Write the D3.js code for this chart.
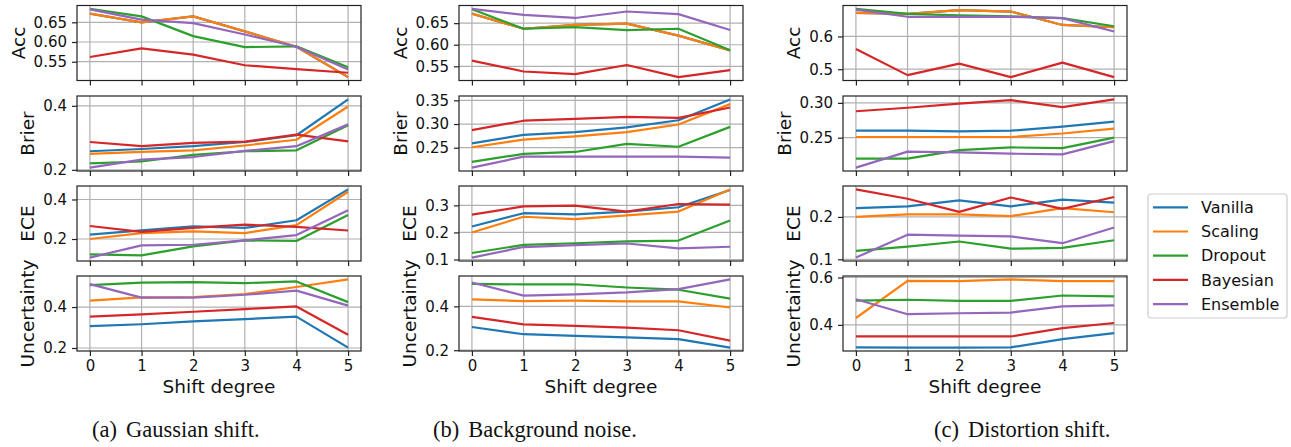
<!DOCTYPE html>
<html lang="en">
<head>
<meta charset="UTF-8">
<title>Calibration under shift</title>
<script src="https://d3js.org/d3.v7.min.js"></script>
<style>
  body { margin: 0; background: #fff; }
  svg { display: block; }
</style>
</head>
<body>
<div id="chart"></div>
<script>
// shift degrees on the x axis
const shifts = [0, 1, 2, 3, 4, 5];
const methods = ["Vanilla", "Scaling", "Dropout", "Bayesian", "Ensemble"];
const colors = ["#1f77b4", "#ff7f0e", "#2ca02c", "#d62728", "#9467bd"];
const metricNames = ["Acc", "Brier", "ECE", "Uncertainty"];
const captions = [["(a)", "Gaussian shift."], ["(b)", "Background noise."], ["(c)", "Distortion shift."]];

// rows: Vanilla, Scaling, Dropout, Bayesian, Ensemble
const gaussianAcc = [
  [0.672, 0.650, 0.665, 0.627, 0.588, 0.511],
  [0.672, 0.650, 0.665, 0.627, 0.588, 0.511],
  [0.684, 0.665, 0.615, 0.587, 0.589, 0.536],
  [0.562, 0.584, 0.568, 0.541, 0.531, 0.522],
  [0.683, 0.657, 0.648, 0.619, 0.588, 0.530]
];
const gaussianBrier = [
  [0.258, 0.265, 0.274, 0.287, 0.308, 0.420],
  [0.250, 0.256, 0.261, 0.276, 0.294, 0.398],
  [0.220, 0.226, 0.247, 0.258, 0.261, 0.339],
  [0.287, 0.274, 0.284, 0.288, 0.310, 0.289],
  [0.207, 0.232, 0.240, 0.259, 0.274, 0.342]
];
const gaussianEce = [
  [0.222, 0.244, 0.264, 0.256, 0.295, 0.451],
  [0.200, 0.230, 0.239, 0.230, 0.270, 0.439],
  [0.122, 0.117, 0.163, 0.193, 0.190, 0.322],
  [0.266, 0.236, 0.256, 0.273, 0.261, 0.243],
  [0.106, 0.168, 0.171, 0.193, 0.220, 0.346]
];
const gaussianUnc = [
  [0.307, 0.316, 0.330, 0.341, 0.353, 0.202],
  [0.431, 0.447, 0.449, 0.463, 0.498, 0.535],
  [0.507, 0.519, 0.522, 0.517, 0.525, 0.424],
  [0.353, 0.364, 0.377, 0.390, 0.403, 0.265],
  [0.512, 0.446, 0.446, 0.460, 0.480, 0.407]
];

const noiseAcc = [
  [0.672, 0.637, 0.646, 0.649, 0.621, 0.587],
  [0.672, 0.637, 0.646, 0.649, 0.621, 0.587],
  [0.682, 0.637, 0.641, 0.634, 0.637, 0.587],
  [0.563, 0.538, 0.532, 0.553, 0.525, 0.541],
  [0.683, 0.669, 0.662, 0.677, 0.671, 0.634]
];
const noiseBrier = [
  [0.259, 0.277, 0.283, 0.293, 0.308, 0.352],
  [0.251, 0.267, 0.274, 0.283, 0.299, 0.342],
  [0.220, 0.237, 0.241, 0.258, 0.252, 0.294],
  [0.287, 0.307, 0.311, 0.315, 0.313, 0.335],
  [0.208, 0.231, 0.231, 0.231, 0.231, 0.229]
];
const noiseEce = [
  [0.222, 0.271, 0.267, 0.277, 0.293, 0.357],
  [0.200, 0.258, 0.249, 0.263, 0.277, 0.359],
  [0.124, 0.154, 0.160, 0.167, 0.170, 0.244],
  [0.266, 0.296, 0.299, 0.277, 0.305, 0.303],
  [0.107, 0.146, 0.153, 0.159, 0.141, 0.147]
];
const noiseUnc = [
  [0.306, 0.273, 0.265, 0.259, 0.251, 0.212],
  [0.432, 0.424, 0.426, 0.423, 0.423, 0.395],
  [0.503, 0.500, 0.501, 0.486, 0.476, 0.435],
  [0.352, 0.318, 0.311, 0.303, 0.291, 0.244],
  [0.509, 0.449, 0.455, 0.464, 0.479, 0.523]
];

const distortionAcc = [
  [0.672, 0.669, 0.680, 0.676, 0.635, 0.628],
  [0.672, 0.669, 0.680, 0.676, 0.635, 0.628],
  [0.684, 0.669, 0.664, 0.661, 0.656, 0.631],
  [0.562, 0.482, 0.517, 0.476, 0.520, 0.476],
  [0.682, 0.660, 0.660, 0.660, 0.656, 0.615]
];
const distortionBrier = [
  [0.260, 0.260, 0.259, 0.260, 0.266, 0.273],
  [0.251, 0.251, 0.251, 0.251, 0.256, 0.263],
  [0.220, 0.220, 0.232, 0.236, 0.235, 0.250],
  [0.288, 0.293, 0.299, 0.304, 0.294, 0.305],
  [0.207, 0.230, 0.229, 0.227, 0.226, 0.245]
];
const distortionEce = [
  [0.221, 0.225, 0.239, 0.225, 0.241, 0.234],
  [0.200, 0.206, 0.206, 0.202, 0.221, 0.211],
  [0.120, 0.130, 0.142, 0.125, 0.127, 0.145],
  [0.265, 0.243, 0.212, 0.246, 0.219, 0.247],
  [0.104, 0.158, 0.156, 0.154, 0.138, 0.175]
];
const distortionUnc = [
  [0.305, 0.304, 0.304, 0.305, 0.340, 0.365],
  [0.429, 0.586, 0.585, 0.592, 0.585, 0.585],
  [0.502, 0.506, 0.501, 0.501, 0.524, 0.520],
  [0.351, 0.351, 0.351, 0.351, 0.386, 0.408],
  [0.508, 0.445, 0.449, 0.452, 0.478, 0.482]
];

// y tick values per column, per metric
const gaussianTicks = [[0.55, 0.60, 0.65], [0.2, 0.4], [0.2, 0.4], [0.2, 0.4]];
const noiseTicks = [[0.55, 0.60, 0.65], [0.25, 0.30, 0.35], [0.1, 0.2, 0.3], [0.2, 0.4]];
const distortionTicks = [[0.5, 0.6], [0.25, 0.30], [0.1, 0.2], [0.4, 0.6]];

const columns = [
  { data: [gaussianAcc, gaussianBrier, gaussianEce, gaussianUnc], ticks: gaussianTicks, left: 77, capX: 92 },
  { data: [noiseAcc, noiseBrier, noiseEce, noiseUnc], ticks: noiseTicks, left: 459, capX: 433 },
  { data: [distortionAcc, distortionBrier, distortionEce, distortionUnc], ticks: distortionTicks, left: 843, capX: 934 }
];

const W = 1291, H = 447;
const panelW = 284, panelH = 75;
const panelTops = [5.5, 96, 186, 276];
const font = "DejaVu Sans, sans-serif";

const svg = d3.select("#chart").append("svg")
  .attr("width", W).attr("height", H);

const line = d3.line();

function tickFmt(vals) {
  const twoDigits = vals.some(v => Math.abs(v * 10 - Math.round(v * 10)) > 1e-6);
  return twoDigits ? d3.format(".2f") : d3.format(".1f");
}

columns.forEach((col, ci) => {
  const x = d3.scaleLinear().domain([-0.25, 5.25]).range([col.left, col.left + panelW]);

  col.data.forEach((series, mi) => {
    const top = panelTops[mi];
    const all = series.flat();
    const lo = d3.min(all), hi = d3.max(all);
    const pad = (hi - lo) * 0.05;
    const y = d3.scaleLinear().domain([lo - pad, hi + pad]).range([top + panelH, top]);
    const ticks = col.ticks[mi].filter(t => t >= lo - pad - 1e-9 && t <= hi + pad + 1e-9);
    const fmt = tickFmt(col.ticks[mi]);

    const g = svg.append("g");

    // grid
    g.selectAll(".gx").data(shifts).enter().append("line")
      .attr("x1", d => x(d)).attr("x2", d => x(d))
      .attr("y1", top).attr("y2", top + panelH)
      .attr("stroke", "#b0b0b0").attr("stroke-width", 1.2);
    g.selectAll(".gy").data(ticks).enter().append("line")
      .attr("x1", col.left).attr("x2", col.left + panelW)
      .attr("y1", d => y(d)).attr("y2", d => y(d))
      .attr("stroke", "#b0b0b0").attr("stroke-width", 1.2);

    // series
    const clipId = `clip-${ci}-${mi}`;
    svg.append("clipPath").attr("id", clipId).append("rect")
      .attr("x", col.left).attr("y", top).attr("width", panelW).attr("height", panelH);
    g.append("g").attr("clip-path", `url(#${clipId})`)
      .selectAll("path").data(series).enter().append("path")
      .attr("d", vals => line(vals.map((v, i) => [x(shifts[i]), y(v)])))
      .attr("fill", "none")
      .attr("stroke", (d, i) => colors[i])
      .attr("stroke-width", 2.2)
      .attr("stroke-linejoin", "round");

    // frame
    g.append("rect")
      .attr("x", col.left).attr("y", top).attr("width", panelW).attr("height", panelH)
      .attr("fill", "none").attr("stroke", "#222").attr("stroke-width", 1.2);

    // x ticks
    const xAxis = d3.axisBottom(x).tickValues(shifts).tickSize(5).tickPadding(4)
      .tickFormat(mi === 3 ? d3.format("d") : "");
    const xg = g.append("g").attr("transform", `translate(0,${top + panelH})`).call(xAxis);
    xg.select(".domain").remove();
    xg.selectAll(".tick line").attr("stroke", "#222").attr("stroke-width", 1.2);
    xg.selectAll(".tick text").attr("font-family", font).attr("font-size", 15).attr("fill", "#111");

    // y ticks
    const yAxis = d3.axisLeft(y).tickValues(ticks).tickSize(5).tickPadding(5).tickFormat(fmt);
    const yg = g.append("g").attr("transform", `translate(${col.left},0)`).call(yAxis);
    yg.select(".domain").remove();
    yg.selectAll(".tick line").attr("stroke", "#222").attr("stroke-width", 1.2);
    yg.selectAll(".tick text").attr("font-family", font).attr("font-size", 15).attr("fill", "#111");

    // y label placed left of the widest tick label
    let minX = col.left;
    yg.selectAll(".tick text").each(function () {
      const b = this.getBBox();
      minX = Math.min(minX, col.left + b.x);
    });
    const lx = minX - 9;
    const ly = top + panelH / 2;
    g.append("text")
      .attr("transform", `translate(${lx},${ly}) rotate(-90)`)
      .attr("text-anchor", "middle")
      .attr("font-family", font).attr("font-size", 18.5).attr("fill", "#111")
      .text(metricNames[mi]);

    if (mi === 3) {
      g.append("text")
        .attr("x", col.left + panelW / 2).attr("y", 393)
        .attr("text-anchor", "middle")
        .attr("font-family", font).attr("font-size", 18.5).attr("fill", "#111")
        .text("Shift degree");
    }
  });

  // caption
  const cap = svg.append("text")
    .attr("x", col.capX).attr("y", 437)
    .attr("font-family", "Liberation Serif, Times New Roman, serif")
    .attr("font-size", 22.5).attr("fill", "#111");
  cap.append("tspan").text(captions[ci][0]);
  cap.append("tspan").attr("dx", 9).text(captions[ci][1]);
});

// legend
const legend = svg.append("g").attr("transform", "translate(1148,194)");
legend.append("rect")
  .attr("width", 139).attr("height", 124).attr("rx", 3)
  .attr("fill", "#fff").attr("stroke", "#cccccc").attr("stroke-width", 1.2);
const rows = legend.selectAll(".row").data(methods).enter().append("g")
  .attr("transform", (d, i) => `translate(0,${13.3 + i * 24.2})`);
rows.append("line")
  .attr("x1", 5).attr("x2", 40)
  .attr("stroke", (d, i) => colors[i]).attr("stroke-width", 2.2);
rows.append("text")
  .attr("x", 53).attr("dy", "0.35em")
  .attr("font-family", font).attr("font-size", 16).attr("fill", "#111")
  .text(d => d);
</script>
</body>
</html>
